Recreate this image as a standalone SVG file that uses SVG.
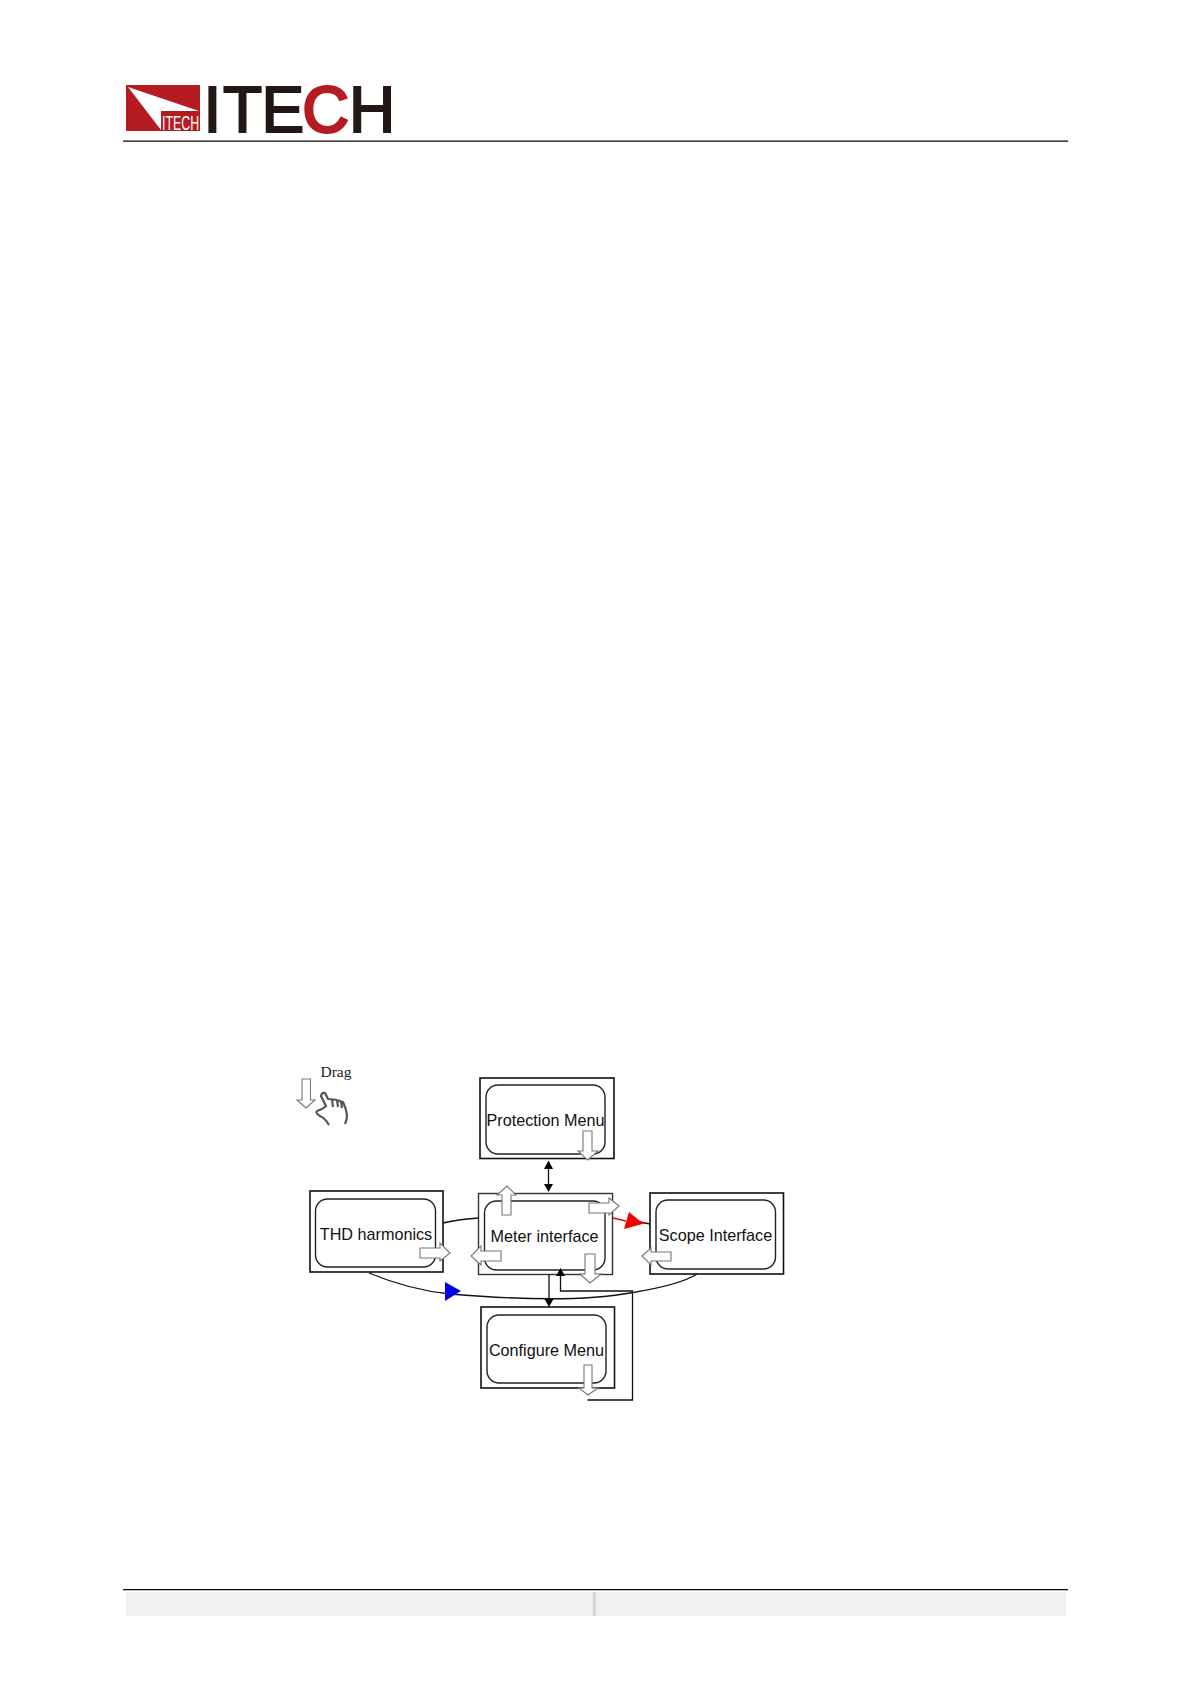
<svg xmlns="http://www.w3.org/2000/svg" width="1191" height="1684" viewBox="0 0 1191 1684">
<style>
.outer{fill:#fff;stroke:#111;stroke-width:1.6}
.inner{fill:#fff;stroke:#222;stroke-width:1.4}
.lbl{font-family:"Liberation Sans",Arial,sans-serif;font-size:16.200px;fill:#111;text-anchor:middle}
.big{font-family:"Liberation Sans",Arial,sans-serif;font-size:64px;fill:#231815;stroke:#231815;stroke-width:2}
.w{fill:#fff;stroke:#777;stroke-width:1.1}
.c{fill:none;stroke:#111;stroke-width:1.300}
</style>
<rect width="1191" height="1684" fill="#fff"/>
<g id="logo">
<rect x="126" y="85" width="74" height="46" fill="#b51c22"/>
<polygon points="128,87 199,111 161,111 161,130" fill="#fff"/>
<text transform="translate(162 130) scale(.62 1)" font-family="Liberation Sans,sans-serif" font-size="20" fill="#fff">ITECH</text>
<text class="big" y="131.500" x="203.500 223 261.500 302.500 349">ITE<tspan style="fill:#b51c22;stroke:#b51c22;stroke-width:3">C</tspan>H</text>
</g>
<g id="rules">
<rect x="123" y="140.500" width="945" height="1.300" fill="#111"/>
<rect x="123" y="1589" width="945" height="1.300" fill="#111"/>
<rect x="126" y="1592" width="466" height="24" fill="#f1f1f1"/>
<rect x="596" y="1592" width="470" height="24" fill="#f1f1f1"/>
<rect x="592.500" y="1592" width="3.500" height="24" fill="#d6d6d6"/>
</g>
<g id="drag">
<text x="320.500" y="1076.500" font-family="Liberation Serif,serif" font-size="15.500" fill="#222">Drag</text>
<polygon class="w" points="302,1079 310.500,1079 310.500,1100 315,1100 306,1108 297,1100 302,1100"/>
<path d="M329 1125Q325 1118 320 1116Q315 1113 317 1111Q322 1110 326 1106Q322 1098 321 1096Q322 1092 325 1093L328 1099Q336 1099 343 1102Q346 1108 347 1115Q347 1120 345 1124M332 1100L333 1107M337 1100L338 1107M341 1102L342 1108" fill="none" stroke="#555" stroke-width="2.200"/>
</g>
<g id="protection"><rect class="outer" x="480" y="1078" width="134" height="80.500"/><rect class="inner" x="486" y="1085" width="119" height="69" rx="12"/><text class="lbl" x="545.500" y="1126">Protection Menu</text><polygon class="w" points="583,1131 592,1131 592,1151 598,1151 587.500,1160 578,1151 583,1151"/></g>
<g id="thd"><rect class="outer" x="310" y="1191" width="133" height="81"/><rect class="inner" x="315.500" y="1199" width="120" height="68" rx="12"/><text class="lbl" x="376" y="1239.500">THD harmonics</text><polygon class="w" points="420,1248 440,1248 440,1243 450,1253 440,1261 440,1258 420,1258"/></g>
<g id="meter"><rect x="478.500" y="1193.500" width="134" height="81" fill="#fff" stroke="#333" stroke-width="1.400"/><rect class="inner" x="484.500" y="1201" width="120.500" height="69" rx="12"/><text class="lbl" x="544.500" y="1241.500">Meter interface</text>
<polygon class="w" points="502,1215 502,1195 497,1195 507,1186 516,1195 511,1195 511,1215"/>
<polygon class="w" points="589,1203 609,1203 609,1198 619,1206 609,1215 609,1213 589,1213"/>
<polygon class="w" points="501,1251 481,1251 481,1246 471,1256 481,1265 481,1261 501,1261"/>
<polygon class="w" points="585,1254 595,1254 595,1274 601,1274 590,1283 580,1274 585,1274"/></g>
<g id="scope"><rect class="outer" x="650" y="1193" width="133.500" height="81"/><rect class="inner" x="656" y="1200" width="119.500" height="69" rx="12"/><text class="lbl" x="715.500" y="1241">Scope Interface</text><polygon class="w" points="671,1252 651,1252 651,1248 642,1256 651,1265 651,1261 671,1261"/></g>
<g id="configure"><rect class="outer" x="481" y="1307" width="133.500" height="81"/><rect class="inner" x="487" y="1315" width="119" height="68" rx="12"/><text class="lbl" x="546.500" y="1356">Configure Menu</text><polygon class="w" points="584,1365 592,1365 592,1388 598,1388 588,1395 579,1388 584,1388"/></g>
<g id="connectors">
<path class="c" d="M443 1223Q460 1219 479 1218"/>
<path class="c" d="M369 1273Q410 1290 450 1294"/>
<path class="c" d="M450 1294Q570 1304 630 1293"/>
<path class="c" d="M630 1293Q680 1285 697 1274"/>
<path d="M613 1218L626 1221" fill="none" stroke="#e00" stroke-width="1.400"/>
<path class="c" d="M640 1222L650 1224"/>
<polygon points="445,1282 461,1291 445,1301" fill="#0000e6"/>
<polygon points="629,1212 640,1221 646,1223 624,1229" fill="#f00000"/>
<path class="c" d="M548.500 1166V1188"/>
<polygon points="548.500,1160.500 553,1169 544,1169" fill="#000"/>
<polygon points="548.500,1192 544,1184 553,1184" fill="#000"/>
<path class="c" d="M549 1274V1303"/>
<polygon points="549,1307 544.500,1299 553.500,1299" fill="#000"/>
<path class="c" d="M560.500 1276V1291H632.500V1400H587.500"/>
<polygon points="560.500,1268 556,1276 565,1276" fill="#000"/>
</g>
</svg>
